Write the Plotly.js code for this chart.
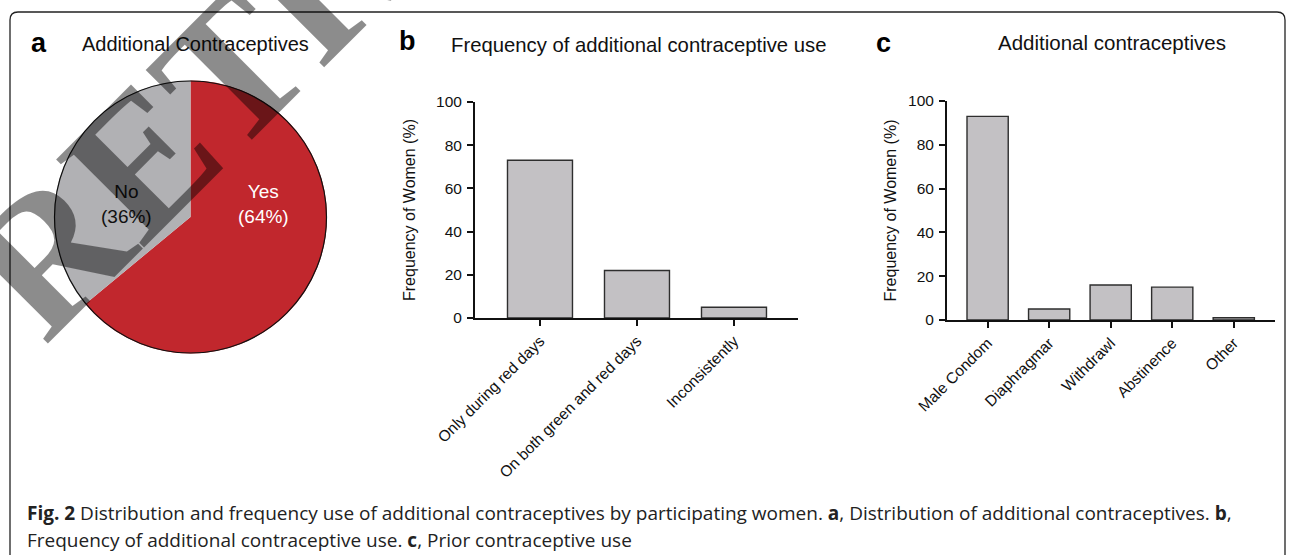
<!DOCTYPE html>
<html>
<head>
<meta charset="utf-8">
<script src="https://cdn.plot.ly/plotly-3.0.1.min.js"></script>
<style>html,body{margin:0;padding:0;background:#fff}#chart{width:1295px;height:555px}</style>
</head>
<body>
<div id="chart"></div>
<script>
// ---- data ----
const pieLabels = ["Yes", "No"];
const pieValues = [64, 36];

const useCategories = ["Only during red days", "On both green and red days", "Inconsistently"];
const useValues = [73, 22, 5];

const methodCategories = ["Male Condom", "Diaphragmar", "Withdrawl", "Abstinence", "Other"];
const methodValues = [93, 5, 16, 15, 1];

const yTicks = [0, 20, 40, 60, 80, 100];

// ---- layout helpers ----
const W = 1295, H = 555;
const px = x => x / W;
const py = y => 1 - y / H;

const FONT = "Liberation Sans, Arial, sans-serif";
const barColor = "#c3c1c4";
const barLine = "#2e2e2e";

const traces = [
  {
    type: "pie",
    labels: pieLabels,
    values: pieValues,
    sort: false,
    direction: "clockwise",
    rotation: 0,
    marker: {colors: ["#c1272d", "#b1b1b4"], line: {width: 0}},
    textinfo: "none",
    domain: {x: [px(54), px(327)], y: [py(354), py(80)]},
    showlegend: false,
    hoverinfo: "label+percent"
  },
  {
    type: "bar",
    x: useCategories,
    y: useValues,
    width: 0.67,
    marker: {color: barColor, line: {color: barLine, width: 1.4}},
    xaxis: "x", yaxis: "y",
    showlegend: false
  },
  {
    type: "bar",
    x: methodCategories,
    y: methodValues,
    width: 0.67,
    marker: {color: barColor, line: {color: barLine, width: 1.4}},
    xaxis: "x2", yaxis: "y2",
    showlegend: false
  }
];

const axisCommon = {
  showline: true, linecolor: "#111", linewidth: 2,
  ticks: "outside", ticklen: 6, tickwidth: 2, tickcolor: "#111",
  showgrid: false, zeroline: false,
  tickfont: {family: FONT, size: 15.5, color: "#111"},
  fixedrange: true
};

function yAxis(standoff) {
  return Object.assign({}, axisCommon, {
    range: [0, 100], tickvals: yTicks, ticklabelstandoff: 2,
    title: {text: "Frequency of Women (%)", font: {family: FONT, size: 16, color: "#111"}, standoff: standoff}
  });
}

// pie labels positioned inside each slice
const pieLabelPos = [[263, 204, "#ffffff"], [126, 204, "#111111"]];
const pieAnnotations = pieLabels.map((l, i) => ({
  text: l + "<br>(" + pieValues[i] + "%)",
  x: px(pieLabelPos[i][0]), y: py(pieLabelPos[i][1]), xref: "paper", yref: "paper",
  xanchor: "center", yanchor: "middle", showarrow: false,
  font: {family: FONT, size: 19, color: pieLabelPos[i][2]}
}));

const layout = {
  width: W, height: H,
  margin: {l: 0, r: 0, t: 0, b: 0},
  paper_bgcolor: "#fff", plot_bgcolor: "#fff",
  font: {family: FONT, color: "#111"},
  xaxis: Object.assign({}, axisCommon, {
    domain: [px(475), px(798)], range: [-0.67, 2.66], tickangle: -45, anchor: "y",
    type: "category"
  }),
  yaxis: Object.assign(yAxis(16), {domain: [py(318), py(102)], anchor: "x"}),
  xaxis2: Object.assign({}, axisCommon, {
    domain: [px(947), px(1275)], range: [-0.66, 4.67], tickangle: -45, anchor: "y2",
    type: "category"
  }),
  yaxis2: Object.assign(yAxis(7), {domain: [py(320), py(101)], anchor: "x2"}),
  shapes: [
    // pie outline
    {type: "circle", xref: "paper", yref: "paper",
     x0: px(54.5), x1: px(326.5), y0: py(353), y1: py(81),
     line: {color: "#111", width: 1.2}, fillcolor: "rgba(0,0,0,0)", layer: "above"},
    // figure frame (rounded)
    {type: "path", xref: "paper", yref: "paper", layer: "below",
     path: "M " + px(10) + " " + py(580) +
           " L " + px(10) + " " + py(20) +
           " Q " + px(10) + " " + py(12) + " " + px(18) + " " + py(12) +
           " L " + px(1277) + " " + py(12) +
           " Q " + px(1285) + " " + py(12) + " " + px(1285) + " " + py(20) +
           " L " + px(1285) + " " + py(580),
     line: {color: "#222", width: 1.3}}
  ],
  annotations: pieAnnotations.concat([
    {text: "<b>a</b>", x: px(29), y: py(43), xref: "paper", yref: "paper", xanchor: "left", yanchor: "middle",
     showarrow: false, font: {family: FONT, size: 27, color: "#000"}},
    {text: "Additional Contraceptives", x: px(80), y: py(44), xref: "paper", yref: "paper", xanchor: "left", yanchor: "middle",
     showarrow: false, font: {family: FONT, size: 20, color: "#111"}},
    {text: "<b>b</b>", x: px(397), y: py(41), xref: "paper", yref: "paper", xanchor: "left", yanchor: "middle",
     showarrow: false, font: {family: FONT, size: 27, color: "#000"}},
    {text: "Frequency of additional contraceptive use", x: px(449), y: py(45), xref: "paper", yref: "paper", xanchor: "left", yanchor: "middle",
     showarrow: false, font: {family: FONT, size: 20.3, color: "#111"}},
    {text: "<b>c</b>", x: px(874), y: py(43), xref: "paper", yref: "paper", xanchor: "left", yanchor: "middle",
     showarrow: false, font: {family: FONT, size: 27, color: "#000"}},
    {text: "Additional contraceptives", x: px(996), y: py(42), xref: "paper", yref: "paper", xanchor: "left", yanchor: "middle",
     showarrow: false, font: {family: FONT, size: 20.5, color: "#111"}},
    {text: "<b>Fig. 2</b> Distribution and frequency use of additional contraceptives by participating women. <b>a</b>, Distribution of additional contraceptives. <b>b</b>,",
     x: px(25), y: py(513), xref: "paper", yref: "paper", xanchor: "left", yanchor: "middle",
     showarrow: false, font: {family: "Open Sans, sans-serif", size: 19, color: "#222"}},
    {text: "Frequency of additional contraceptive use. <b>c</b>, Prior contraceptive use",
     x: px(25), y: py(540), xref: "paper", yref: "paper", xanchor: "left", yanchor: "middle",
     showarrow: false, font: {family: "Open Sans, sans-serif", size: 19, color: "#222"}},
    // watermark stamp
    {text: "<b>RETRACTED</b>", x: px(421), y: py(-120), xref: "paper", yref: "paper", xanchor: "center", yanchor: "middle",
     textangle: -45, showarrow: false,
     font: {family: "Liberation Serif, Times New Roman, serif", size: 190, color: "rgba(0,0,0,0.45)"}}
  ])
};

Plotly.newPlot("chart", traces, layout, {displayModeBar: false, staticPlot: true});
</script>
</body>
</html>
